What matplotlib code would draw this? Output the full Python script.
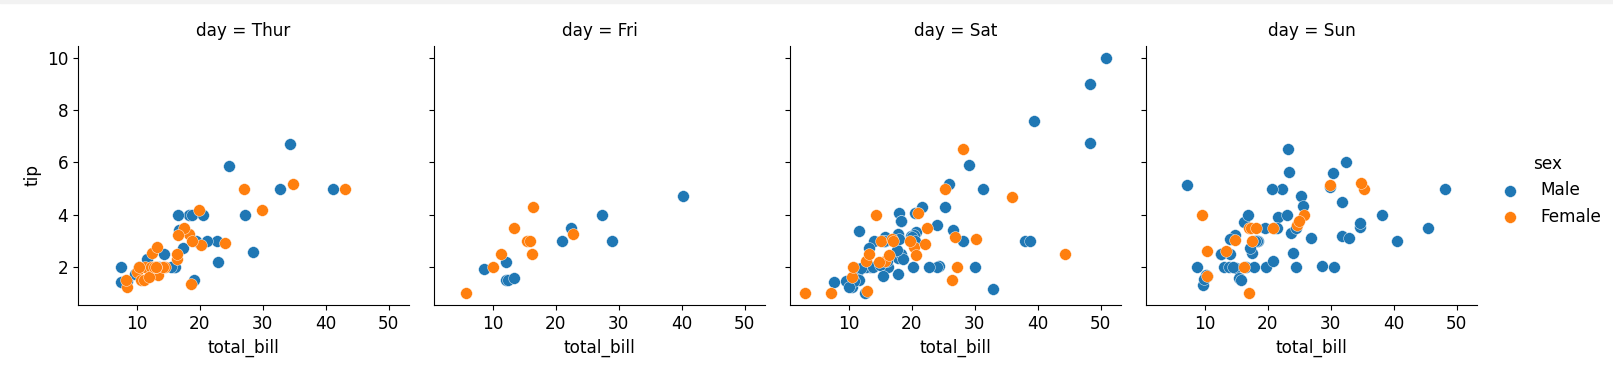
import matplotlib.pyplot as plt
from matplotlib.patches import Rectangle
import numpy as np

fs = 12.2
plt.rcParams["font.size"] = fs
plt.rcParams["axes.labelsize"] = fs
plt.rcParams["xtick.labelsize"] = fs
plt.rcParams["ytick.labelsize"] = fs
plt.rcParams["axes.titlesize"] = fs
plt.rcParams["axes.titlepad"] = 7.5
plt.rcParams["legend.fontsize"] = fs
plt.rcParams["legend.title_fontsize"] = fs

days = ["Thur", "Fri", "Sat", "Sun"]
sexes = ["Male", "Female"]
colors = {"Male": "#1f77b4", "Female": "#ff7f0e"}

# Thur
thur_bill = [27.2, 22.76, 17.29, 19.44, 16.66, 10.07, 32.68, 15.98, 34.83, 13.03, 18.28, 24.71, 21.16,
             10.65, 12.43, 24.08, 11.69, 13.42, 14.26, 15.95, 12.48, 29.8, 8.52, 14.52, 11.38, 22.82,
             19.08, 20.27, 11.17, 12.26, 18.26, 8.51, 10.33, 14.15, 16.0, 13.16, 17.47, 34.3, 41.19,
             27.05, 16.43, 8.35, 18.64, 11.87, 9.78, 7.51, 19.81, 28.44, 15.48, 16.58, 7.56, 10.34,
             43.11, 13.0, 13.51, 18.71, 12.74, 13.0, 16.4, 20.53, 16.47, 18.78]
thur_tip = [4.0, 3.0, 2.71, 3.0, 3.4, 1.83, 5.0, 2.03, 5.17, 2.0, 4.0, 5.85, 3.0,
            1.5, 1.8, 2.92, 2.31, 1.68, 2.5, 2.0, 2.52, 4.2, 1.48, 2.0, 2.0, 2.18,
            1.5, 2.83, 1.5, 2.0, 3.25, 1.25, 2.0, 2.0, 2.0, 2.75, 3.5, 6.7, 5.0,
            5.0, 2.3, 1.5, 1.36, 1.63, 1.73, 2.0, 4.19, 2.56, 2.02, 4.0, 1.44, 2.0,
            5.0, 2.0, 2.0, 4.0, 2.01, 2.0, 2.5, 4.0, 3.23, 3.0]
thur_sex = "MMMMMFMMFMMMM" "FFFMFMMFFMFFMMFFFFFFFMFFMMFFFFFMM" "FMMMMMFFMMFFFMF" "F"

# Fri
fri_bill = [28.97, 22.49, 5.75, 16.32, 22.75, 40.17, 27.28, 12.03, 21.01, 12.46, 11.35, 15.38,
            12.16, 13.42, 8.58, 15.98, 13.42, 16.27, 10.09]
fri_tip = [3.0, 3.5, 1.0, 4.3, 3.25, 4.73, 4.0, 1.5, 3.0, 1.5, 2.5, 3.0,
           2.2, 3.48, 1.92, 3.0, 1.58, 2.5, 2.0]
fri_sex = "MMFFFMMMMMFF" "MFMFMFF"

# Sat
sat_bill = [20.65, 17.92, 20.29, 15.77, 39.42, 19.82, 17.81, 13.37, 12.69, 21.7, 19.65, 9.55, 18.35,
            15.06, 20.69, 17.78, 24.06, 16.31, 16.93, 18.69, 31.27, 16.04,
            38.01, 26.41, 11.24, 48.27, 20.29, 13.81, 11.02, 18.29, 17.59, 20.08, 16.45, 3.07, 20.23,
            15.01, 12.02, 17.07, 26.86, 25.28, 14.73, 10.51, 17.92,
            44.3, 22.42, 20.92, 15.36, 20.49, 25.21, 18.24, 14.31, 14.0, 7.25,
            10.59, 10.63, 50.81, 15.81,
            26.59, 38.73, 24.27, 12.76, 30.06, 25.89, 48.33, 13.27, 28.17, 12.9, 28.15, 11.59, 7.74, 30.14,
            20.45, 13.28, 22.12, 24.01, 15.69, 11.61, 10.77, 15.53, 10.07, 12.6, 32.83, 35.83, 29.03,
            27.18, 22.67, 17.82]
sat_tip = [3.35, 4.08, 2.75, 2.23, 7.58, 3.18, 2.34, 2.0, 2.0, 4.3, 3.0, 1.45, 2.5,
           3.0, 2.45, 3.27, 3.6, 2.0, 3.07, 2.31, 5.0, 2.24,
           3.0, 1.5, 1.76, 6.73, 3.21, 2.0, 1.98, 3.76, 2.64, 3.15, 2.47, 1.0, 2.01,
           2.09, 1.97, 3.0, 3.14, 5.0, 2.2, 1.25, 3.08,
           2.5, 3.48, 4.08, 1.64, 4.06, 4.29, 3.76, 4.0, 3.0, 1.0,
           1.61, 2.0, 10.0, 3.16,
           3.41, 3.0, 2.03, 2.23, 2.0, 5.16, 9.0, 2.5, 6.5, 1.1, 3.0, 1.5, 1.44, 3.09,
           3.0, 2.72, 2.88, 2.0, 3.0, 3.39, 1.47, 3.0, 1.25, 1.0, 1.17, 4.67, 5.92,
           2.0, 2.0, 1.75]
sat_sex = ("MMFFMMMMMMFMMFFMMMFMMM" "MFMMMMMMMMFFMMMFFFFMM" "FFFMMMMFMF" "FFMM"
           "MMMFMMMFFFMMMF" "MMFMMMMMMMMFMFMM")

# Sun
sun_bill = [16.99, 10.34, 21.01, 23.68, 24.59, 25.29, 8.77, 26.88, 15.04, 14.78, 10.27, 35.26, 15.42,
            18.43, 14.83, 21.58, 10.33, 16.29, 16.97,
            17.46, 13.94, 9.68, 30.4, 18.29, 22.23, 32.4, 28.55, 18.04, 12.54, 10.29, 34.81, 9.94,
            25.56, 19.49,
            38.07, 23.95, 25.71, 17.31, 29.93,
            14.07, 13.13, 17.26, 24.55, 19.77, 29.85, 48.17, 25.0, 13.39, 16.49, 21.5, 12.66, 16.21,
            13.81, 17.51, 24.52, 20.76, 31.71,
            7.25, 31.85, 16.82, 32.9, 17.89, 14.48, 9.6, 34.63, 34.65, 23.33, 45.35, 23.17, 40.55,
            20.69, 20.9, 30.46, 18.15, 23.1, 15.69]
sun_tip = [1.01, 1.66, 3.5, 3.31, 3.61, 4.71, 2.0, 3.12, 1.96, 3.23, 1.71, 5.0, 1.57,
           3.0, 3.02, 3.92, 1.67, 3.71, 3.5,
           2.54, 3.06, 1.32, 5.6, 3.0, 5.0, 6.0, 2.05, 3.0, 2.5, 2.6, 5.2, 1.56,
           4.34, 3.51,
           4.0, 2.55, 4.0, 3.5, 5.07,
           2.5, 2.0, 2.74, 2.0, 2.0, 5.14, 5.0, 3.75, 2.61, 2.0, 3.5, 2.5, 2.0,
           2.0, 3.0, 3.48, 2.24, 4.5,
           5.15, 3.18, 4.0, 3.11, 2.0, 2.0, 4.0, 3.55, 3.68, 5.65, 3.5, 6.5, 3.0,
           5.0, 3.5, 2.0, 3.5, 4.0, 1.5]
sun_sex = ("FMMMFMMMMMMFMMFMFMF" "MMMMMMMMMMFFMMM" "MMFFM"
           "MMMMMFMFFMMMFMFMMM" "MMMMMMFMMMMMMMFMFMM")

data = {
    "Thur": (thur_bill, thur_tip, thur_sex),
    "Fri": (fri_bill, fri_tip, fri_sex),
    "Sat": (sat_bill, sat_tip, sat_sex),
    "Sun": (sun_bill, sun_tip, sun_sex),
}

fig, axes = plt.subplots(1, 4, sharex=True, sharey=True, figsize=(16.13, 3.66), dpi=100)
fig.subplots_adjust(left=78 / 1613, right=1477 / 1613, bottom=1 - 305 / 366, top=1 - 46 / 366,
                    wspace=0.0755)

handles = {}
for ax, day in zip(axes, days):
    bill = np.array(data[day][0])
    tip = np.array(data[day][1])
    sex = np.array(list(data[day][2]))
    for s in sexes:
        m = sex == s[0]
        h = ax.scatter(bill[m], tip[m], s=72, color=colors[s], edgecolors="white", linewidths=0.3)
        handles[s] = h
    ax.set_title("day = " + day)
    ax.set_xlabel("total_bill")
    ax.spines["top"].set_visible(False)
    ax.spines["right"].set_visible(False)

axes[0].set_ylabel("tip")
axes[0].set_xticks([10, 20, 30, 40, 50])
axes[0].set_yticks([2, 4, 6, 8, 10])

fig.legend([handles[s] for s in sexes], sexes, title="sex", frameon=False,
           loc="center left", bbox_to_anchor=(1478 / 1613, 0.48), scatterpoints=1,
           handlelength=2.0, handletextpad=0.8)

# light strip at the top of the screenshot
fig.patches.append(Rectangle((0, 1 - 3 / 366), 1, 3 / 366, transform=fig.transFigure,
                             color="#f2f2f2", zorder=-1))

plt.savefig("out.png", dpi=100)
